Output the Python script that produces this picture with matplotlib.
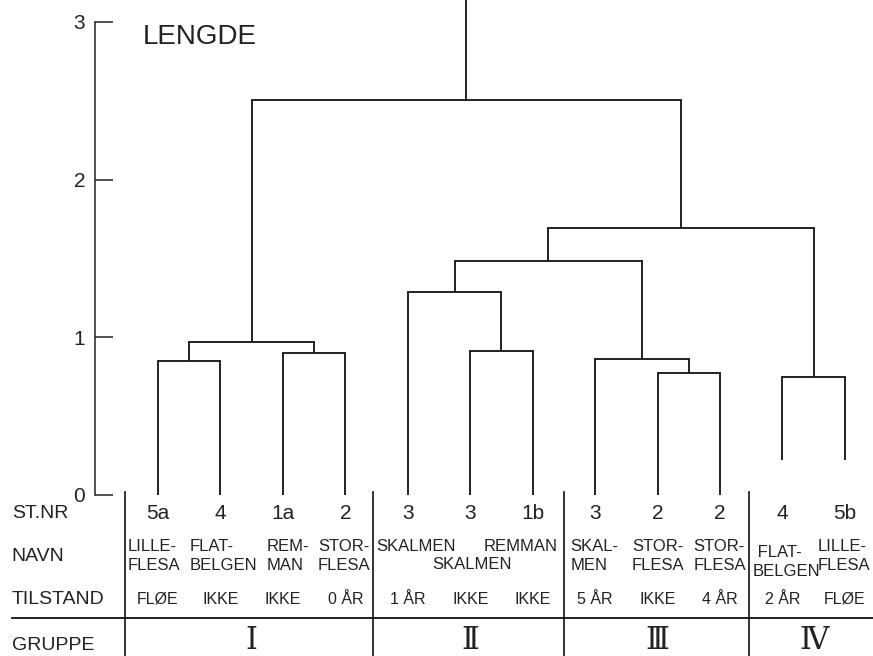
import matplotlib.pyplot as plt

plt.rcParams['font.family'] = ['Liberation Sans', 'DejaVu Sans']

# leaf data (left to right)
st_nr = ['5a', '4', '1a', '2', '3', '3', '1b', '3', '2', '2', '4', '5b']
tilstand = ['FLØE', 'IKKE', 'IKKE', '0 ÅR', '1 ÅR', 'IKKE', 'IKKE', '5 ÅR', 'IKKE', '4 ÅR', '2 ÅR', 'FLØE']
leaf_base = [0, 0, 0, 0, 0, 0, 0, 0, 0, 0, 0.22, 0.22]

# merges: (left id, right id, height); ids >= 12 are earlier merges
merges = [
    (0, 1, 0.85),
    (2, 3, 0.90),
    (12, 13, 0.97),
    (5, 6, 0.91),
    (4, 15, 1.29),
    (8, 9, 0.775),
    (7, 17, 0.865),
    (16, 18, 1.485),
    (10, 11, 0.75),
    (19, 20, 1.69),
    (14, 21, 2.505),
]
root_top = 3.3

names = ['LILLE-\nFLESA', 'FLAT-\nBELGEN', 'REM-\nMAN', 'STOR-\nFLESA',
         'SKALMEN', 'SKALMEN', 'REMMAN',
         'SKAL-\nMEN', 'STOR-\nFLESA', 'STOR-\nFLESA',
         ' FLAT-\nBELGEN', 'LILLE-\nFLESA']
groups = ['Ⅰ', 'Ⅱ', 'Ⅲ', 'Ⅳ']
group_leaves = [(0, 3), (4, 6), (7, 9), (10, 11)]

# layout of the name cells (x in leaf units, y in height units, alignment)
name_pos = [(-0.48, -0.387, 'left'), (0.51, -0.387, 'left'), (1.745, -0.387, 'left'),
            (2.56, -0.387, 'left'), (3.49, -0.325, 'left'), (4.39, -0.44, 'left'),
            (6.405, -0.325, 'right'), (6.61, -0.387, 'left'), (7.59, -0.387, 'left'),
            (8.57, -0.387, 'left'), (9.53, -0.425, 'left'), (10.57, -0.387, 'left')]

fig = plt.figure(figsize=(8.73, 6.56), dpi=100)
ax = fig.add_axes([0, 0, 1, 1])
ax.set_xlim(-2.53, 11.45)
ax.set_ylim(-1.021, 3.139)

lw = 1.3
col = '#111111'

# dendrogram
xpos = list(range(len(st_nr)))
hts = list(leaf_base)
for a, b, h in merges:
    for c in (a, b):
        ax.plot([xpos[c], xpos[c]], [hts[c], h], color=col, lw=lw, solid_capstyle='butt')
    ax.plot([xpos[a], xpos[b]], [h, h], color=col, lw=lw, solid_capstyle='projecting')
    xpos.append((xpos[a] + xpos[b]) / 2)
    hts.append(h)
ax.plot([xpos[-1], xpos[-1]], [hts[-1], root_top], color=col, lw=lw)

# y axis
for s in ['top', 'right', 'bottom']:
    ax.spines[s].set_visible(False)
ax.spines['left'].set_position(('data', -1.01))
ax.spines['left'].set_bounds(0, 3)
ax.spines['left'].set_linewidth(1.1)
ax.spines['left'].set_color('#222222')
ax.set_xticks([])
ax.set_yticks([0, 1, 2, 3])
ax.tick_params(axis='y', direction='in', length=13, width=1.1, pad=7,
               labelsize=15, colors='#222222')

ax.text(-0.24, 2.904, 'LENGDE', fontsize=20, ha='left', va='center', color='#222222')

# table below the tree
row_x = -2.34
ax.text(row_x, -0.12, 'ST.NR', fontsize=14, va='center', color='#222222')
ax.text(row_x, -0.387, 'NAVN', fontsize=14, va='center', color='#222222')
ax.text(row_x, -0.66, 'TILSTAND', fontsize=14, va='center', color='#222222')
ax.text(row_x, -0.957, 'GRUPPE', fontsize=14, va='center', color='#222222')

for i, lab in enumerate(st_nr):
    ax.text(i, -0.12, lab, fontsize=15, ha='center', va='center', color='#222222')
for i, lab in enumerate(tilstand):
    ax.text(i, -0.66, lab, fontsize=11.5, ha='center', va='center', color='#222222')
for lab, (x, y, ha) in zip(names, name_pos):
    ax.text(x, y, lab, fontsize=12, ha=ha, va='center', multialignment='left',
            linespacing=1.3, color='#222222')

for g, (a, b) in zip(groups, group_leaves):
    ax.text((a + b) / 2, -0.975, g, fontsize=22, ha='center', va='baseline',
            family=['DejaVu Serif', 'DejaVu Sans'], color='#222222')

for d in [-0.53, 3.45, 6.5, 9.47]:
    ax.plot([d, d], [0.02, -1.05], color=col, lw=1.2)
ax.plot([-2.34, 11.45], [-0.78, -0.78], color=col, lw=1.3)

fig.savefig('out.png', dpi=100)
